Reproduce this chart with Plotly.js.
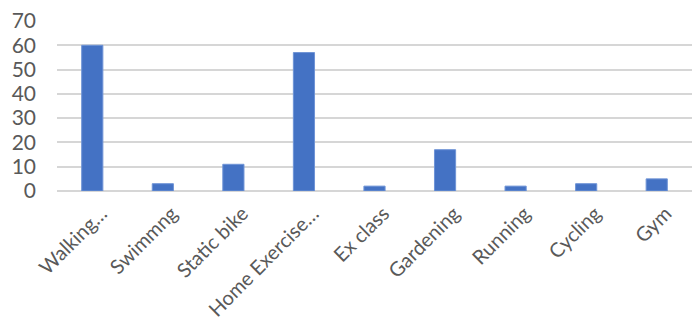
<!DOCTYPE html>
<html>
<head>
<meta charset="utf-8">
<script src="https://cdn.plot.ly/plotly-3.0.1.min.js"></script>
<style>html,body{margin:0;padding:0;background:#fff}#chart{width:692px;height:324px}</style>
</head>
<body>
<div id="chart"></div>
<script>
const categories = ["Walking…", "Swimmng", "Static bike", "Home Exercise…", "Ex class", "Gardening", "Running", "Cycling", "Gym"];
const values = [60, 3, 11, 57, 2, 17, 2, 3, 5];
const yTicks = [0, 10, 20, 30, 40, 50, 60, 70];

Plotly.newPlot("chart", [{
  type: "bar",
  x: categories,
  y: values,
  marker: {color: "#4472C4", line: {color: "#6f94d6", width: 1}},
  hoverinfo: "x+y"
}], {
  width: 692, height: 324,
  margin: {l: 57, r: 0, t: 21, b: 133},
  paper_bgcolor: "#fff", plot_bgcolor: "#fff",
  bargap: 0.7,
  font: {family: "Lato, Open Sans, sans-serif", color: "#595959"},
  xaxis: {
    tickangle: -45,
    tickfont: {size: 20, color: "#595959"},
    showgrid: false, showline: false, ticks: "",
    ticklabelstandoff: 6,
    ticklabelshift: 9,
    automargin: false
  },
  yaxis: {
    range: [0, 70],
    tickvals: yTicks,
    tickfont: {size: 21, color: "#595959"},
    showgrid: true, gridcolor: "#d6d6d6", gridwidth: 2,
    zeroline: true, zerolinecolor: "#d6d6d6", zerolinewidth: 2,
    showline: false, ticks: "", ticklen: 0,
    ticklabelstandoff: 20,
    automargin: false
  },
  showlegend: false
}, {displayModeBar: false, staticPlot: true});
</script>
</body>
</html>
